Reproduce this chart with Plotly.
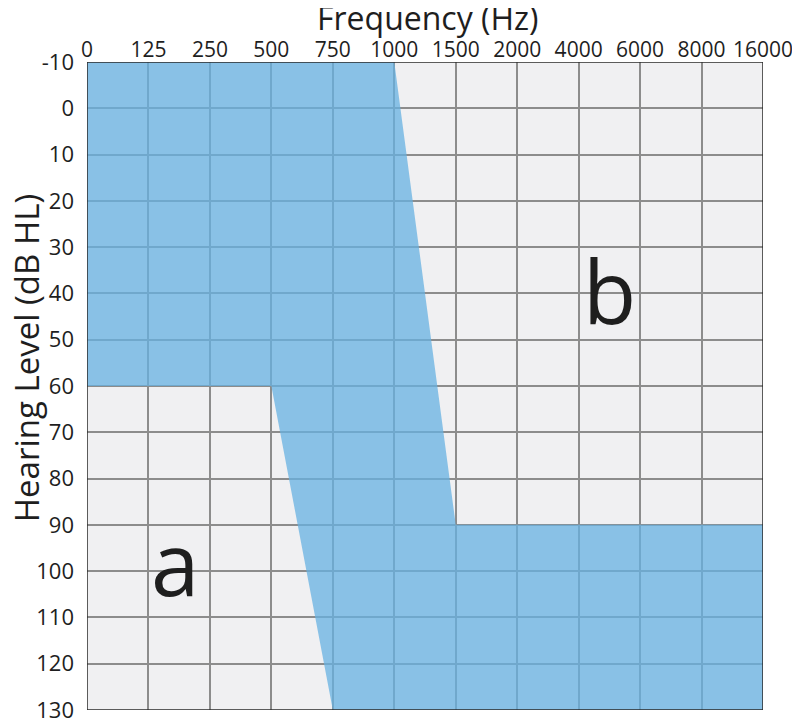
import plotly.graph_objects as go

# Audiogram axes
freq_labels = ["0", "125", "250", "500", "750", "1000", "1500",
               "2000", "4000", "6000", "8000", "16000"]
hl_ticks = [-10, 0, 10, 20, 30, 40, 50, 60, 70, 80, 90, 100, 110, 120, 130]

# Outline of the shaded (blue) region: frequency label + hearing level
region_freq = ["0", "1000", "1500", "16000", "16000", "750", "500", "0", "0"]
region_hl = [-10, -10, 90, 90, 130, 130, 60, 60, -10]

# Zone letters
zone_text = ["a", "b"]
zone_pos = [1.44, 8.5]      # position along the frequency axis (column index)
zone_hl = [98, 39.3]

# semi-transparent blue so the grey grid shows through as a darker blue
BLUE = "rgba(103,177,225,0.75)"
BG = "#f0f0f2"
GRID = "#8c8c8c"
INK = "#1e1e1e"
FONT = "Open Sans"

xi = [freq_labels.index(f) for f in region_freq]
n = len(freq_labels) - 1

fig = go.Figure()
fig.add_trace(go.Scatter(
    x=xi, y=region_hl, mode="lines", fill="toself",
    fillcolor=BLUE, line=dict(width=0), hoverinfo="skip", showlegend=False,
))

for t, x, y in zip(zone_text, zone_pos, zone_hl):
    fig.add_annotation(x=x, y=y, text=t, showarrow=False,
                       font=dict(family=FONT, size=87, color=INK))

# axis titles placed as annotations (paper coords relative to plot area)
fig.add_annotation(xref="paper", yref="paper", x=0.504, y=1.069,
                   xanchor="center", yanchor="middle",
                   text="Frequency (Hz)", showarrow=False,
                   font=dict(size=32, color=INK))
fig.add_annotation(xref="paper", yref="paper", x=-0.090, y=0.543,
                   xanchor="center", yanchor="middle",
                   text="Hearing Level (dB HL)", textangle=-90, showarrow=False,
                   font=dict(size=33, color=INK))

fig.add_shape(type="rect", x0=0, x1=n, y0=-10, y1=130,
              line=dict(color="#2a2a2a", width=1.5), layer="above")

# the page body adds an 8px offset, so margins are trimmed by 8
fig.update_layout(
    width=800, height=722,
    paper_bgcolor="white", plot_bgcolor=BG,
    margin=dict(l=79, r=45, t=54, b=20),
    font=dict(family=FONT, color=INK),
    xaxis=dict(
        side="top", range=[0, n], tickmode="array",
        tickvals=list(range(len(freq_labels))), ticktext=freq_labels,
        showgrid=True, gridcolor=GRID, gridwidth=2,
        zeroline=False, ticks="", automargin=False,
        tickfont=dict(size=21), ticklabelstandoff=0,
        ticklabeloverflow="allow",
    ),
    yaxis=dict(
        range=[130, -10], tickmode="array", tickvals=hl_ticks,
        ticktext=[str(v) for v in hl_ticks],
        showgrid=True, gridcolor=GRID, gridwidth=2,
        zeroline=False, ticks="", automargin=False,
        tickfont=dict(size=22), ticklabelstandoff=12,
        ticklabeloverflow="allow",
    ),
)

fig.write_html("out.html")
